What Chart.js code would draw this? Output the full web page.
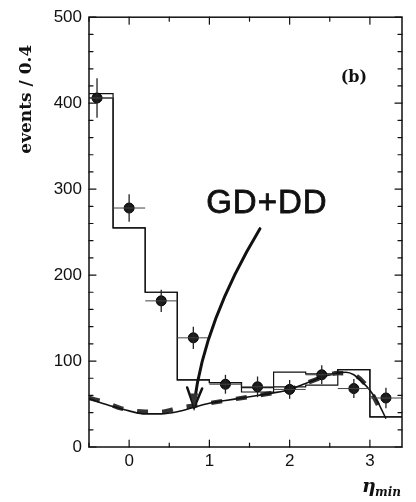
<!DOCTYPE html>
<html>
<head>
<meta charset="utf-8">
<script src="https://cdn.jsdelivr.net/npm/chart.js@4/dist/chart.umd.min.js"></script>
<style>
html,body{margin:0;padding:0;background:#fff;}
canvas{display:block;}
</style>
</head>
<body>
<canvas id="c" width="416" height="502"></canvas>
<script>
// ---- data ----
const binEdges   = [-0.6, -0.2, 0.2, 0.6, 1.0, 1.4, 1.8, 2.2, 2.6, 3.0, 3.4];
const histTotal  = [411, 255, 180, 78, 75, 64, 87, 85, 90, 35];
const histAlt    = [406, 255, 180, 78, 75, 69, 70, 72, 90, 35];

const etaMin     = [-0.4, 0.0, 0.4, 0.8, 1.2, 1.6, 2.0, 2.4, 2.8, 3.2];
const events     = [406, 278, 170, 127, 73, 70, 67, 84, 68, 57];
const eventsErr  = [23, 16, 13, 13, 11, 12, 11, 11, 11, 12];
const binHalf    = 0.2;

const curveX     = [-0.5, -0.2, 0.0, 0.2, 0.4, 0.6, 0.8, 1.0, 1.2, 1.4, 1.6, 1.8, 2.0, 2.2, 2.4, 2.6, 2.7, 2.8, 2.9, 3.0, 3.1, 3.2];
const curveY     = [56, 47, 42, 38.5, 38.5, 41, 46, 51, 54, 57, 60, 63, 67, 74, 81, 86, 87, 84, 76, 66, 52, 33];

const gdddX      = [-0.5, -0.3, -0.1, 0.2, 0.4, 0.6, 0.8, 1.0, 1.2, 1.6, 2.0, 2.2, 2.4, 2.6, 2.8, 3.0, 3.15];
const gdddY      = [57, 52, 45, 41, 41, 45, 48, 51, 54, 60, 67, 74, 81, 86, 84, 66, 40];

const xTickValues = [0, 1, 2, 3];
const yTickValues = [0, 100, 200, 300, 400, 500];
const xMinorTicks = [-0.5, 0.5, 1.5, 2.5];
const yMinorStep  = 20;

// ---- build ----
function stepData(edges, vals){
  const d = vals.map((v,i)=>({x:edges[i], y:v}));
  d.push({x:edges[edges.length-1], y:vals[vals.length-1]});
  return d;
}
const zip = (xs, ys) => xs.map((x,i)=>({x, y:ys[i]}));

const framePlugin = {
  id:'frame',
  afterDatasetsDraw(chart){
    const {ctx, chartArea:a, scales:{x, y}} = chart;
    ctx.save();
    // error bars
    etaMin.forEach((ex,i)=>{
      const px = x.getPixelForValue(ex);
      const py = y.getPixelForValue(events[i]);
      ctx.strokeStyle = '#222';
      ctx.lineWidth = 1.3;
      ctx.beginPath();
      ctx.moveTo(px, y.getPixelForValue(events[i]-eventsErr[i]));
      ctx.lineTo(px, y.getPixelForValue(events[i]+eventsErr[i]));
      ctx.stroke();
      ctx.lineWidth = 1;
      ctx.strokeStyle = '#444';
      ctx.beginPath();
      ctx.moveTo(Math.max(a.left, x.getPixelForValue(ex-binHalf)), py);
      ctx.lineTo(Math.min(a.right, x.getPixelForValue(ex+binHalf)), py);
      ctx.stroke();
    });
    // annotation arrow
    const sx = x.getPixelForValue(1.63), sy = y.getPixelForValue(254);
    const cx = x.getPixelForValue(0.94), cy = y.getPixelForValue(147);
    const tx = x.getPixelForValue(0.81), ty = y.getPixelForValue(46);
    ctx.strokeStyle = '#111';
    ctx.lineWidth = 3;
    ctx.lineCap = 'round';
    ctx.beginPath();
    ctx.moveTo(sx, sy);
    ctx.quadraticCurveTo(cx, cy, tx, ty - 4);
    ctx.stroke();
    ctx.lineWidth = 2.5;
    ctx.beginPath();
    ctx.moveTo(tx - 7, ty - 20);
    ctx.lineTo(tx, ty);
    ctx.lineTo(tx + 8, ty - 19);
    ctx.stroke();
    ctx.fillStyle = '#333';
    ctx.beginPath();
    ctx.moveTo(tx - 4, ty - 14);
    ctx.lineTo(tx, ty);
    ctx.lineTo(tx + 4, ty - 14);
    ctx.closePath();
    ctx.fill();
    // handwritten label
    ctx.fillStyle = '#111';
    ctx.strokeStyle = '#111';
    ctx.lineWidth = 0.8;
    ctx.font = '33px "Liberation Sans", Arial, sans-serif';
    ctx.textBaseline = 'alphabetic';
    ctx.textAlign = 'left';
    const lx = x.getPixelForValue(0.96), ly = y.getPixelForValue(272);
    ctx.letterSpacing = '1px';
    ctx.fillText('GD+DD', lx, ly);
    ctx.strokeText('GD+DD', lx, ly);
    ctx.letterSpacing = '0px';
    // (b)
    ctx.font = 'bold 16px "DejaVu Serif", serif';
    ctx.textAlign = 'center';
    ctx.fillText('(b)', x.getPixelForValue(2.8), y.getPixelForValue(425));

    // frame
    ctx.strokeStyle = '#111';
    ctx.lineWidth = 1.5;
    ctx.strokeRect(a.left, a.top, a.right - a.left, a.bottom - a.top);
    // ticks (inside)
    ctx.lineWidth = 1.2;
    ctx.beginPath();
    for (let v = 0; v <= 500; v += yMinorStep){
      const py = y.getPixelForValue(v);
      const len = (v % 100 === 0) ? 7 : 4;
      ctx.moveTo(a.left, py); ctx.lineTo(a.left + len, py);
      ctx.moveTo(a.right, py); ctx.lineTo(a.right - len, py);
    }
    xTickValues.forEach(v=>{
      const px = x.getPixelForValue(v);
      ctx.moveTo(px, a.bottom); ctx.lineTo(px, a.bottom - 7);
      ctx.moveTo(px, a.top); ctx.lineTo(px, a.top + 7);
    });
    xMinorTicks.forEach(v=>{
      const px = x.getPixelForValue(v);
      ctx.moveTo(px, a.bottom); ctx.lineTo(px, a.bottom - 4);
      ctx.moveTo(px, a.top); ctx.lineTo(px, a.top + 4);
    });
    ctx.stroke();

    // axis titles
    ctx.fillStyle = '#111';
    ctx.save();
    ctx.translate(31, a.top + 82);
    ctx.rotate(-Math.PI/2);
    ctx.font = 'bold 17px "DejaVu Serif", serif';
    ctx.textAlign = 'center';
    ctx.textBaseline = 'alphabetic';
    ctx.fillText('events / 0.4', 0, 0);
    ctx.restore();

    ctx.textAlign = 'left';
    ctx.textBaseline = 'alphabetic';
    ctx.font = 'bold italic 19px "DejaVu Serif", serif';
    ctx.fillText('η', 362, 492);
    ctx.font = 'bold italic 12px "DejaVu Serif", serif';
    ctx.fillText('min', 375, 496);
    ctx.restore();
  }
};

new Chart(document.getElementById('c'), {
  type:'line',
  data:{
    datasets:[
      {data: zip(etaMin, events), showLine:false, pointRadius:5, pointBackgroundColor:'#1a1a1a', pointBorderColor:'#000', pointBorderWidth:1, order:0},
      {data: stepData(binEdges, histTotal), stepped:'before', borderColor:'#111', borderWidth:1.2, pointRadius:0, fill:false},
      {data: stepData(binEdges, histAlt), stepped:'before', borderColor:'#111', borderWidth:1.2, pointRadius:0, fill:false},
      {data: zip(curveX, curveY), cubicInterpolationMode:'monotone', borderColor:'#111', borderWidth:1.6, pointRadius:0, fill:false},
      {data: zip(gdddX, gdddY), cubicInterpolationMode:'monotone', borderColor:'#333', borderWidth:4.5, borderDash:[11,14], pointRadius:0, fill:false}
    ]
  },
  options:{
    responsive:false,
    devicePixelRatio:1,
    animation:false,
    layout:{padding:{left:0, right:14, top:16, bottom:0}},
    plugins:{legend:{display:false}, tooltip:{enabled:false}},
    scales:{
      x:{
        type:'linear', min:-0.5, max:3.4,
        grid:{display:false, drawTicks:false},
        border:{display:false},
        afterBuildTicks(s){ s.ticks = xTickValues.map(v=>({value:v})); },
        afterFit(s){ s.height = 55; },
        ticks:{padding:4, color:'#111', font:{family:'"Liberation Sans", Arial, sans-serif', size:17}, maxRotation:0}
      },
      y:{
        type:'linear', min:0, max:500,
        grid:{display:false, drawTicks:false},
        border:{display:false},
        afterBuildTicks(s){ s.ticks = yTickValues.map(v=>({value:v})); },
        afterFit(s){ s.width = 89; },
        ticks:{padding:7, color:'#111', font:{family:'"Liberation Sans", Arial, sans-serif', size:17}}
      }
    }
  },
  plugins:[framePlugin]
});
</script>
</body>
</html>
